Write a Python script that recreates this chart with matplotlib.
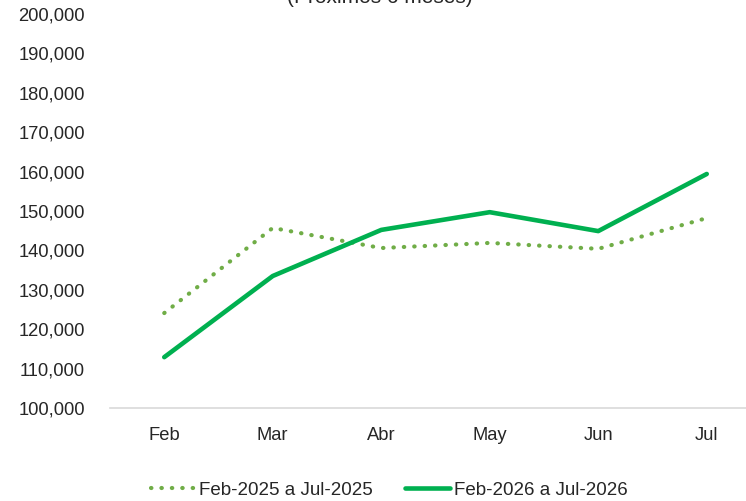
import matplotlib.pyplot as plt
from matplotlib.ticker import FuncFormatter

plt.rcParams['font.family'] = ['Liberation Sans', 'DejaVu Sans']

months = ['Feb', 'Mar', 'Abr', 'May', 'Jun', 'Jul']
prev_year = [124100, 145700, 140600, 141900, 140400, 148200]
next_year = [112900, 133500, 145200, 149700, 144900, 159400]
labels = ['Feb-2025 a Jul-2025', 'Feb-2026 a Jul-2026']

W, H = 746, 501
fig = plt.figure(figsize=(W / 100, H / 100), dpi=100)
# plot area runs past the right edge, like the original
ax = fig.add_axes([110 / W, (H - 408) / H, (761 - 110) / W, 394 / H])

x = range(len(months))
ax.plot(x, prev_year, color='#70AD47', lw=3.0, linestyle=(0, (0.1, 2.4)),
        dash_capstyle='round', label=labels[0])
ax.plot(x, next_year, color='#00B050', lw=3.3, solid_capstyle='round',
        solid_joinstyle='round', label=labels[1])

ax.set_xlim(-0.5, 5.5)
ax.set_ylim(100000, 200000)
ax.set_yticks(range(100000, 200001, 10000))
ax.yaxis.set_major_formatter(FuncFormatter(lambda v, p: f'{int(v):,}'))
ax.set_xticks(list(x))
ax.set_xticklabels(months)

for s in ['top', 'right', 'left']:
    ax.spines[s].set_visible(False)
ax.spines['bottom'].set_color('#D9D9D9')
ax.spines['bottom'].set_linewidth(1.2)
ax.tick_params(axis='both', length=0, labelsize=13.2, colors='#262626')
ax.tick_params(axis='y', pad=18)
ax.tick_params(axis='x', pad=14)

# title is mostly cut off at the top of the picture
fig.text(380 / W, 1 - 3 / H, '(Próximos 6 meses)', ha='center', va='baseline',
         fontsize=15, color='#262626')

fig.legend(loc='center', bbox_to_anchor=(389 / W, 1 - 490 / H), ncol=2,
           frameon=False, fontsize=13.5, handlelength=2.4, handletextpad=0.2,
           columnspacing=1.7, labelcolor='#262626')

fig.savefig('out.png', dpi=100)
